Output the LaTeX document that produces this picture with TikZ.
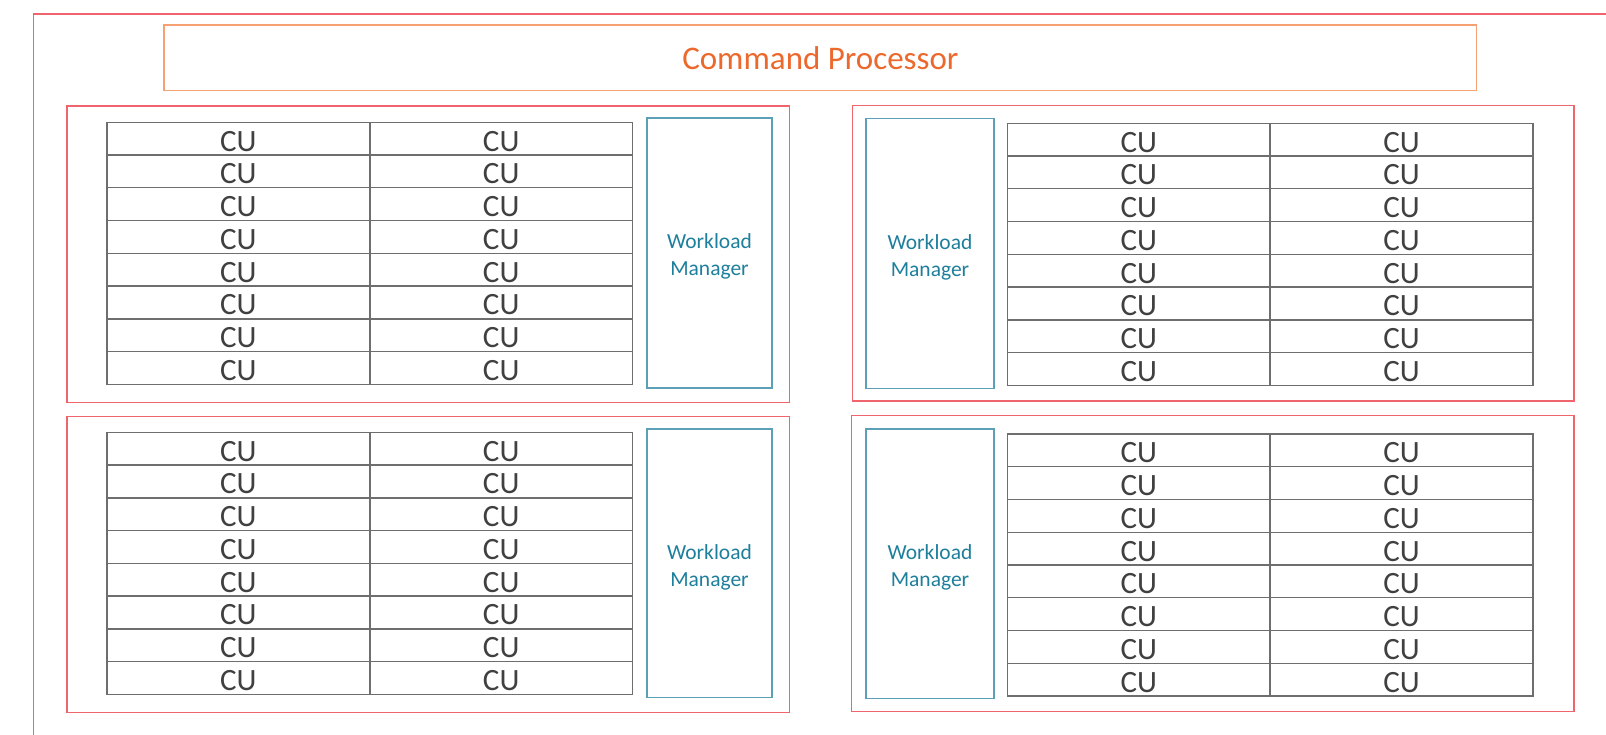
\documentclass[tikz,border=0pt]{standalone}
\usepackage{fontspec}
\setmainfont{Carlito}
\definecolor{redline}{RGB}{240,100,110}
\definecolor{cpline}{RGB}{246,160,115}
\definecolor{cptext}{RGB}{236,104,44}
\definecolor{cellline}{RGB}{110,110,110}
\definecolor{cutext}{RGB}{64,64,64}
\definecolor{wmline}{RGB}{92,160,184}
\definecolor{wmtext}{RGB}{30,127,156}
\newcommand\cutable[3]{%
  \foreach \r in {0,...,7}{\foreach \c in {0,1}{%
    \node[cell] (#1-\r-\c) at ({#2+131.4+262.8*\c},{#3+16.375+32.75*\r}) {\raisebox{-2.5pt}[\height][\depth]{CU}};
  }}}
\newcommand\wmlabel{\raisebox{-4pt}[\height][\depth]{\begin{tabular}{@{}c@{}}Workload\\Manager\end{tabular}}}
\begin{document}
\begin{tikzpicture}[x=1pt,y=-1pt,
  cell/.style={draw=cellline, line width=1.4pt, minimum width=262.8pt, minimum height=32.75pt, inner sep=0pt, text=cutext, font=\fontsize{31}{32}\selectfont},
  wmbox/.style={draw=wmline, line width=1.3pt, inner sep=0pt, text=wmtext, font=\fontsize{21.5}{27}\selectfont},
  cluster/.style={draw=redline, line width=1.3pt, inner sep=0pt},
  cpbox/.style={draw=cpline, line width=1.3pt, inner sep=0pt, text=cptext, font=\fontsize{33}{35}\selectfont}]
\useasboundingbox (0,0) rectangle (1606,735);
\clip (0,0) rectangle (1606,735);
\fill[white] (0,0) rectangle (1606,735);
% outer frame (extends beyond the picture)
\node[cluster, minimum width=1640pt, minimum height=780pt, anchor=north west] (outer) at (32.5,13.5) {};
% command processor
\node[cpbox, minimum width=1312.7pt, minimum height=65.7pt] (cp) at (820.35,57.85) {Command Processor};
% clusters
\node[cluster, minimum width=722.3pt, minimum height=296.3pt] (tl) at (428.15,254.15) {};
\node[cluster, minimum width=721.7pt, minimum height=295.3pt] (tr) at (1213.15,253.35) {};
\node[cluster, minimum width=722.3pt, minimum height=295.6pt] (bl) at (428.15,564.5) {};
\node[cluster, minimum width=722.3pt, minimum height=296.4pt] (br) at (1212.85,563.5) {};
% workload managers
\node[wmbox, minimum width=125pt, minimum height=270pt] (wmtl) at (709.5,253) {\wmlabel};
\node[wmbox, minimum width=128pt, minimum height=269.5pt] (wmtr) at (930,253.55) {\wmlabel};
\node[wmbox, minimum width=125pt, minimum height=268.5pt] (wmbl) at (709.5,563.25) {\wmlabel};
\node[wmbox, minimum width=128pt, minimum height=269.3pt] (wmbr) at (930,563.65) {\wmlabel};
% CU tables
\cutable{tlcu}{107}{122.3}
\cutable{trcu}{1007.3}{123.3}
\cutable{blcu}{107}{432.3}
\cutable{brcu}{1007.3}{434}
\end{tikzpicture}
\end{document}
